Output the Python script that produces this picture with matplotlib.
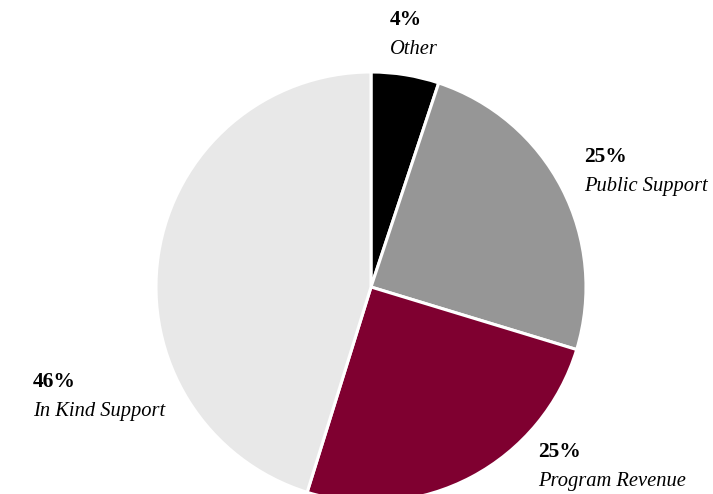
import matplotlib.pyplot as plt

# shares (clockwise from 12 o'clock)
categories = ["Other", "Public Support", "Program Revenue", "In Kind Support"]
shares = [5.1, 24.6, 25.1, 45.2]
pct_labels = ["4%", "25%", "25%", "46%"]
colors = ["#000000", "#969696", "#7f0030", "#e8e8e8"]

W, H = 713, 494
fig = plt.figure(figsize=(W / 100, H / 100), dpi=100)

# pie centre at (371, 287) px, radius 215 px
cx, cy, r = 371, H - 287, 215
ax = fig.add_axes([(cx - r) / W, (cy - r) / H, 2 * r / W, 2 * r / H])
ax.pie(shares, colors=colors, startangle=90, counterclock=False,
       wedgeprops=dict(edgecolor="white", linewidth=2.2))
ax.set_xlim(-1, 1)
ax.set_ylim(-1, 1)
ax.set_aspect("equal")
ax.axis("off")

# label anchors in pixels (left edge, centre of percent line)
label_pos = [(390, 20), (584, 157), (538, 452), (33, 382)]
for (x, y), pct, name in zip(label_pos, pct_labels, categories):
    fig.text(x / W, 1 - y / H, pct, family="Liberation Serif", weight="bold",
             fontsize=15.5, ha="left", va="center")
    fig.text(x / W, 1 - (y + 29) / H, name, family="Liberation Serif",
             style="italic", fontsize=14.8, ha="left", va="center")

fig.savefig("out.png", dpi=100)
